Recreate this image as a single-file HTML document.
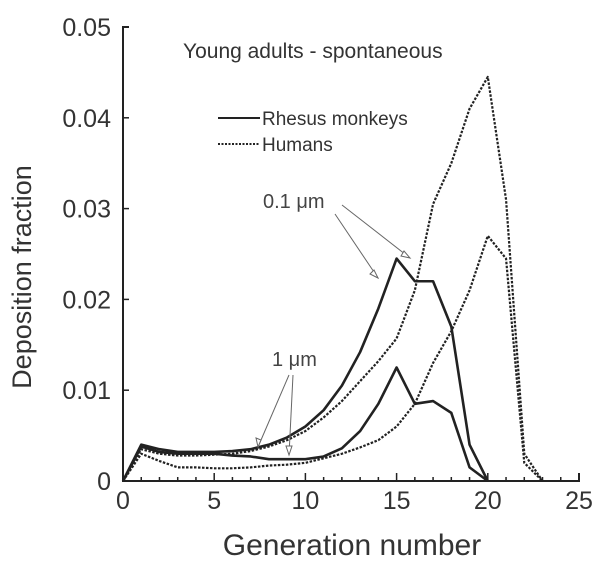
<!DOCTYPE html>
<html><head><meta charset="utf-8"><style>
body{margin:0;background:#fff;}
svg{display:block;font-family:"Liberation Sans",sans-serif;}
</style></head><body>
<svg width="604" height="567" viewBox="0 0 604 567">
<g id="axes"></g>
<g id="series"></g>
<text x="183" y="58" font-size="21" fill="#333">Young adults - spontaneous</text>
<line x1="218" y1="118" x2="260" y2="118" stroke="#222" stroke-width="2"/>
<text x="262" y="125" font-size="19" fill="#333">Rhesus monkeys</text>
<line x1="218" y1="144" x2="260" y2="144" stroke="#222" stroke-width="2" stroke-dasharray="2,1.5"/>
<text x="262" y="151" font-size="19" fill="#333">Humans</text>
<text x="263" y="208" font-size="20" fill="#444">0.1 μm</text>
<text x="272" y="366" font-size="20" fill="#444">1 μm</text>
<g stroke="#666" stroke-width="1" fill="none">
<line x1="335" y1="214" x2="378" y2="278"/><polygon points="378,278 370,274 374,270" fill="#fff"/>
<line x1="342" y1="205" x2="410" y2="258"/><polygon points="410,258 401,256 404,251" fill="#fff"/>
<line x1="289" y1="375" x2="258" y2="447"/><polygon points="258,447 256,438 261,440" fill="#fff"/>
<line x1="293" y1="375" x2="289" y2="455"/><polygon points="289,455 286,446 292,446" fill="#fff"/>
</g>
<text x="352" y="555" font-size="30" fill="#333" text-anchor="middle">Generation number</text>
<text transform="translate(31,277) rotate(-90)" font-size="27" fill="#333" text-anchor="middle">Deposition fraction</text>
<script>
const gens = [0,1,2,3,4,5,6,7,8,9,10,11,12,13,14,15,16,17,18,19,20,21,22,23];
const rhesus01 = [0,0.0040,0.0035,0.0032,0.0032,0.0032,0.0033,0.0035,0.0040,0.0048,0.0060,0.0078,0.0105,0.0142,0.0190,0.0245,0.0220,0.0220,0.0170,0.0040,0];
const rhesus1 = [0,0.0038,0.0032,0.0030,0.0030,0.0030,0.0028,0.0027,0.0024,0.0024,0.0024,0.0027,0.0036,0.0055,0.0085,0.0125,0.0085,0.0088,0.0075,0.0015,0];
const humans01 = [0,0.0035,0.0030,0.0028,0.0028,0.0029,0.0030,0.0033,0.0038,0.0045,0.0055,0.0070,0.0088,0.0110,0.0132,0.0157,0.0210,0.0305,0.0350,0.0410,0.0445,0.0310,0.0030,0];
const humans1 = [0,0.0030,0.0022,0.0015,0.0015,0.0014,0.0014,0.0015,0.0017,0.0018,0.0020,0.0025,0.0030,0.0037,0.0045,0.0060,0.0085,0.0130,0.0165,0.0210,0.0270,0.0245,0.0020,0];
const xTicks = [0,5,10,15,20,25];
const xTickLabels = ["0","5","10","15","20","25"];
const yTicks = [0,0.01,0.02,0.03,0.04,0.05];
const yTickLabels = ["0","0.01","0.02","0.03","0.04","0.05"];
const NS="http://www.w3.org/2000/svg";
const X0=123,X1=579,Y0=481,Y1=27;
const xs=v=>X0+(v/25)*(X1-X0);
const ys=v=>Y0-(v/0.05)*(Y0-Y1);
const ax=document.getElementById('axes');
function mk(t,a,p){const e=document.createElementNS(NS,t);for(const k in a)e.setAttribute(k,a[k]);p.appendChild(e);return e;}
let l=mk('path',{d:`M${X0+6},${Y1}H${X0}V${Y0}H${X1}V${Y0-8}`,stroke:'#222','stroke-width':2,fill:'none'},ax);


for(let v=0;v<=25;v++){const x=xs(v);const t=mk('line',{x1:x,x2:x,y1:Y0,y2:Y0-(v%5==0?8:4),stroke:'#222','stroke-width':1.5},ax);

}
xTicks.forEach((v,i)=>{const t=mk('text',{x:xs(v),y:Y0+28,'font-size':25,fill:'#333','text-anchor':'middle'},ax);t.textContent=xTickLabels[i];

});
yTicks.forEach((v,i)=>{const y=ys(v);const k=mk('line',{x1:X0,x2:X0+6,y1:y,y2:y,stroke:'#222','stroke-width':1.5},ax);


const t=mk('text',{x:111,y:y+9,'font-size':25,fill:'#333','text-anchor':'end'},ax);t.textContent=yTickLabels[i];

});
const sg=document.getElementById('series');
function line(data,dash,name){const d=data.map((v,i)=>(i?'L':'M')+xs(gens[i])+','+ys(v)).join('');
const p=mk('path',{d:d,stroke:'#222','stroke-width':dash?2.2:2.6,fill:'none','stroke-dasharray':dash?'2.5,1.5':'none','stroke-linejoin':'round'},sg);

}
line(rhesus01,false,'rhesus-0-1um-line');
line(rhesus1,false,'rhesus-1um-line');
line(humans01,true,'humans-0-1um-line');
line(humans1,true,'humans-1um-line');
</script>
</svg>
</body></html>
